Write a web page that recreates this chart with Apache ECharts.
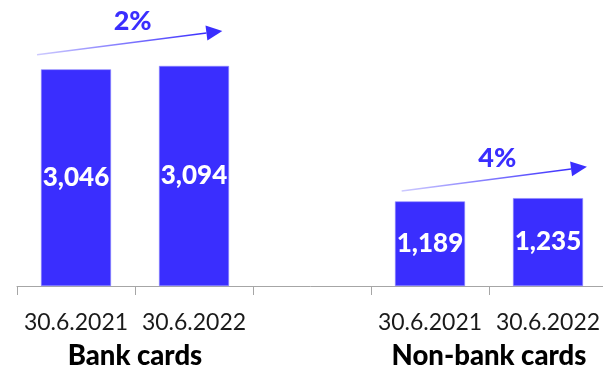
<!DOCTYPE html>
<html><head><meta charset="utf-8">
<script src="https://cdn.jsdelivr.net/npm/echarts@6/dist/echarts.min.js"></script>
<style>html,body{margin:0;padding:0;background:#fff}#c{width:603px;height:367px}</style>
</head><body><div id="c"></div>
<script>
const categories = ['30.6.2021', '30.6.2022', '', '30.6.2021', '30.6.2022'];
const values = [3046, 3094, null, 1189, 1235];
const groupLabels = ['Bank cards', 'Non-bank cards'];
const groupPositions = [1, 4];
// growth annotations: [xStart, yStart, xEnd, yEnd, labelX, labelY, text]
const growthArrows = [
  [0.17, 3250, 1.74, 3585, 0.98, 3715, '2%'],
  [3.26, 1336, 4.83, 1675, 4.07, 1800, '4%']
];
const BLUE = '#3a2efe';
const FONT = 'Lato';
const chart = echarts.init(document.getElementById('c'), null, {renderer: 'canvas'});
chart.setOption({
  animation: false,
  grid: {left: 17, width: 590, top: 1.5, bottom: 81, containLabel: false, outerBoundsMode: 'none'},
  yAxis: {type: 'value', min: 0, max: 4000, show: false},
  xAxis: [{
    type: 'category', data: categories, position: 'bottom',
    axisLine: {lineStyle: {color: '#a6a6a6', width: 1}},
    axisTick: {show: true, interval: 0, length: 9, lineStyle: {color: '#a6a6a6'}},
    axisLabel: {interval: 0, margin: 25, color: '#1a1a1a', fontFamily: FONT, fontSize: 23}
  }, {
    type: 'value', min: 0, max: 5, interval: 1, position: 'bottom',
    axisLine: {show: false}, axisTick: {show: false}, splitLine: {show: false},
    axisLabel: {
      margin: 56, color: '#000', fontFamily: FONT, fontSize: 27.5, fontWeight: 900,
      showMinLabel: true, showMaxLabel: true, hideOverlap: false,
      formatter: v => { const i = groupPositions.indexOf(Math.round(v)); return i >= 0 ? groupLabels[i] : ''; }
    }
  }],
  series: [{
    type: 'bar', xAxisIndex: 0, yAxisIndex: 0, data: values, barWidth: 70,
    itemStyle: {color: BLUE, borderColor: '#8d86ff', borderWidth: 0.6},
    label: {show: true, position: 'inside', color: '#fff', fontFamily: FONT, fontWeight: 900, fontSize: 26,
      formatter: p => p.value == null ? '' : Number(p.value).toLocaleString('en-US')}
  }]
});
const graphics = [];
growthArrows.forEach(a => {
  const p1 = chart.convertToPixel({xAxisIndex: 1, yAxisIndex: 0}, [a[0], a[1]]);
  const p2 = chart.convertToPixel({xAxisIndex: 1, yAxisIndex: 0}, [a[2], a[3]]);
  const pl = chart.convertToPixel({xAxisIndex: 1, yAxisIndex: 0}, [a[4], a[5]]);
  const dx = p2[0] - p1[0], dy = p2[1] - p1[1];
  const len = Math.hypot(dx, dy), ux = dx / len, uy = dy / len;
  const hl = 16, hw = 7.5;
  const bx = p2[0] - ux * hl, by = p2[1] - uy * hl;
  graphics.push({
    type: 'line', shape: {x1: p1[0], y1: p1[1], x2: bx, y2: by},
    style: {lineWidth: 1.5, stroke: new echarts.graphic.LinearGradient(p1[0], p1[1], bx, by, [
      {offset: 0, color: 'rgba(58,46,254,0.25)'}, {offset: 1, color: BLUE}], true)}
  });
  graphics.push({
    type: 'polygon',
    shape: {points: [[p2[0], p2[1]], [bx - uy * hw, by + ux * hw], [bx + uy * hw, by - ux * hw]]},
    style: {fill: BLUE}
  });
  graphics.push({
    type: 'text', x: pl[0], y: pl[1],
    style: {text: a[6], fill: BLUE, font: '900 27px ' + FONT, align: 'center', verticalAlign: 'middle'}
  });
});
chart.setOption({graphic: graphics});
</script></body></html>
